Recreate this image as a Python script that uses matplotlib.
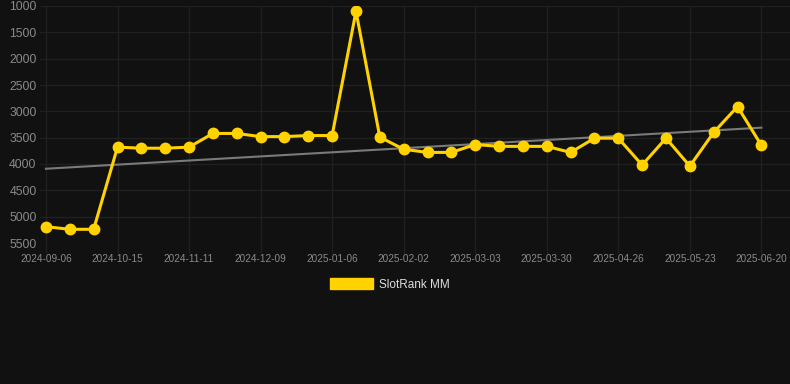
import matplotlib
matplotlib.use("Agg")
import matplotlib.pyplot as plt
from matplotlib.patches import Patch

plt.rcParams['font.family'] = ['Liberation Sans', 'DejaVu Sans']

# Data
rank_values = [5190, 5240, 5240, 3680, 3700, 3700, 3680, 3420, 3420, 3480,
               3480, 3460, 3460, 1100, 3490, 3720, 3780, 3780, 3630, 3665,
               3665, 3665, 3780, 3510, 3510, 4020, 3510, 4040, 3400, 2910,
               3645]
tick_labels = ["2024-09-06", "2024-10-15", "2024-11-11", "2024-12-09",
               "2025-01-06", "2025-02-02", "2025-03-03", "2025-03-30",
               "2025-04-26", "2025-05-23", "2025-06-20"]
tick_every = 3
trend_values = [4090, 3310]
y_ticks = [1000, 1500, 2000, 2500, 3000, 3500, 4000, 4500, 5000, 5500]
series_name = "SlotRank MM"

BG = "#111111"
GRID = "#202020"
TXT = "#8a8a8a"
GOLD = "#FFD200"

W, H = 790, 384
fig = plt.figure(figsize=(W / 100, H / 100), dpi=100, facecolor=BG)
ax = fig.add_axes([40 / W, (H - 243) / H, (790 - 40) / W, (243 - 6) / H])
ax.set_facecolor(BG)

x = list(range(len(rank_values)))
ax.plot([x[0], x[-1]], trend_values, color="#7a7a7a", lw=1.5, zorder=2)
ax.plot(x, rank_values, color=GOLD, lw=2.2, marker="o", ms=7.5,
        markerfacecolor=GOLD, markeredgecolor=GOLD, zorder=3,
        solid_joinstyle="round")

ax.set_ylim(5500, 1000)
ax.set_xlim(-0.25, 31.2)
ax.set_yticks(y_ticks)
ax.set_yticklabels([str(v) for v in y_ticks])
ticks_x = x[::tick_every]
ax.set_xticks(ticks_x)
ax.set_xticklabels(tick_labels)

ax.grid(True, color=GRID, lw=1.0)
ax.set_axisbelow(True)
for s in ax.spines.values():
    s.set_visible(False)
ax.tick_params(axis="y", length=0, pad=2.5, labelsize=8.8, labelcolor=TXT)
ax.tick_params(axis="x", length=7, color=GRID, width=1.0, pad=1,
               labelsize=7.2, labelcolor=TXT)

fig.legend(handles=[Patch(facecolor=GOLD, edgecolor=GOLD, label=series_name)],
           loc="center", bbox_to_anchor=(390 / W, 1 - 284.5 / H),
           frameon=False, fontsize=8.5, labelcolor="#dddddd",
           handlelength=3.6, handleheight=1.1, handletextpad=0.5)

fig.savefig("out.png", dpi=100, facecolor=BG)
